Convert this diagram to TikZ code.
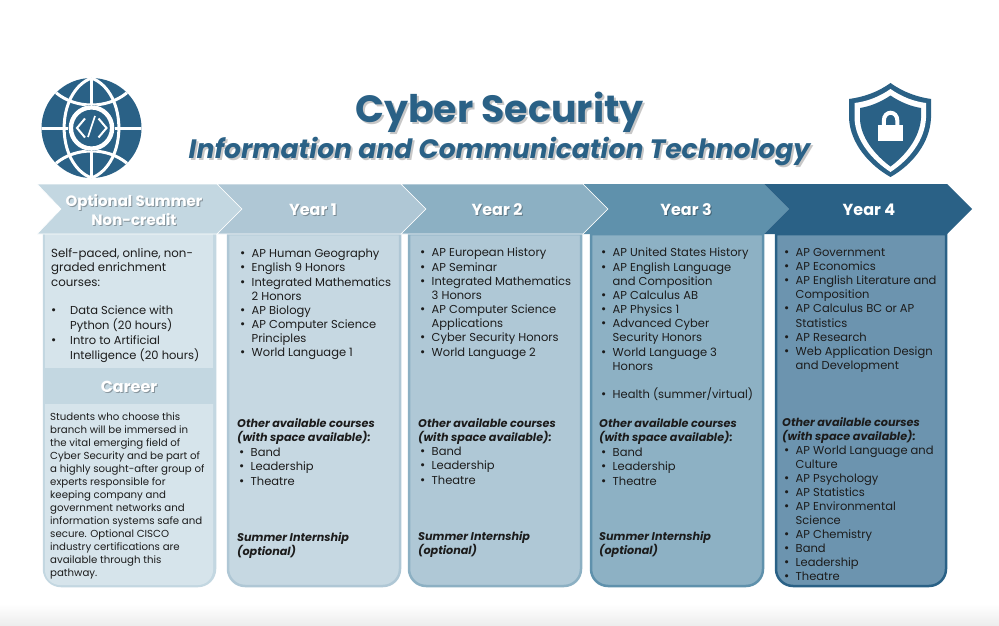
\documentclass[tikz,border=0pt]{standalone}
\usepackage{fontspec}
\setmainfont{Poppins}
\usepackage{xcolor}
\definecolor{deepblue}{HTML}{2A6186}
\definecolor{chevzero}{HTML}{C3D7E1}
\definecolor{chevone}{HTML}{AFC7D5}
\definecolor{chevtwo}{HTML}{8CB0C3}
\definecolor{chevthree}{HTML}{5F91AC}
\definecolor{palezero}{HTML}{D6E4EB}
\definecolor{paleone}{HTML}{C6D8E2}
\definecolor{paletwo}{HTML}{AFC8D6}
\definecolor{palethree}{HTML}{8DB1C4}
\definecolor{palefour}{HTML}{6C94AF}
\definecolor{inktext}{HTML}{1C1C1C}
\newcommand{\bl}[1]{\makebox[11.5pt][l]{\scalebox{1.1}{•}}#1}
\newcommand{\ct}[1]{\hspace*{11.5pt}#1}
\newcommand{\wbl}[1]{\makebox[19pt][l]{\scalebox{1.1}{•}}#1}
\newcommand{\wct}[1]{\hspace*{19pt}#1}
\newcommand{\shtext}[3]{\makebox[0pt][l]{\hspace{#3}\raisebox{-#3}{\textcolor{#1}{#2}}}#2}
\tikzset{
	chevlabel/.style={text=white,font=\fontsize{15}{19}\selectfont\bfseries,align=center,inner sep=0pt},
	yearlabel/.style={chevlabel,font=\fontsize{16}{19}\selectfont\bfseries},
	courselist/.style={anchor=north west,inner sep=0pt,align=left,text=inktext,font=\fontsize{11.5}{14.17}\selectfont},
	courseextra/.style={courselist,font=\fontsize{11.2}{14.17}\selectfont\bfseries\itshape},
	mainhead/.style={text=deepblue,font=\fontsize{38}{40}\selectfont\bfseries,inner sep=0pt},
	subhead/.style={text=deepblue,font=\fontsize{26.6}{28}\selectfont\bfseries\itshape,inner sep=0pt},
	globeline/.style={white,line width=3pt},
}
\begin{document}
\begin{tikzpicture}[x=1pt,y=-1pt]
	\useasboundingbox (0,0) rectangle (999,626);
	\fill[white] (0,0) rectangle (999,626);
	\shade[top color=white,bottom color=black!7] (0,604) rectangle (999,625);

	% panels
	\foreach \lft/\rgt/\bcol/\fcol in {228/400/chevone/paleone,409/581/chevtwo/paletwo,591/763/chevthree/palethree,776/946/deepblue/palefour}
		\draw[\bcol,fill=\fcol,line width=2.5pt] (\lft,234) [rounded corners=17pt] -- (\lft,586) -- (\rgt,586) [sharp corners] -- (\rgt,234) -- cycle;
	\draw[chevzero,fill=chevzero,line width=2.5pt] (44,234) [rounded corners=17pt] -- (44,586) -- (215,586) [sharp corners] -- (215,234) -- cycle;
	\fill[palezero] (45,234) rectangle (213,368);
	\fill[palezero] (45,404) [rounded corners=15pt] -- (45,585) -- (213,585) [sharp corners] -- (213,404) -- cycle;

	% chevrons
	\draw[white,fill=chevzero,line width=0.6pt] (37,184) -- (217,184) -- (242,209) -- (217,234) -- (37,234) -- (61,209) -- cycle;
	\draw[white,fill=chevone,line width=0.6pt] (217,184) -- (401,184) -- (426,209) -- (401,234) -- (217,234) -- (242,209) -- cycle;
	\draw[white,fill=chevtwo,line width=0.6pt] (401,184) -- (583,184) -- (608,209) -- (583,234) -- (401,234) -- (426,209) -- cycle;
	\fill[chevthree] (583,184) -- (764,184) -- (789,209) -- (764,234) -- (583,234) -- (608,209) -- cycle;
	\draw[white,line width=0.6pt] (583,184) -- (608,209) -- (583,234);
	\fill[deepblue] (764,184) -- (947,184) -- (972,209) -- (947,234) -- (764,234) -- (789,209) -- cycle;

	% chevron labels
	\node[chevlabel] (opt) at (134,210.5) {\shtext{chevzero!70!black}{Optional Summer}{1pt}\\\shtext{chevzero!70!black}{Non-credit}{1pt}};
	\node[yearlabel] (yone) at (313,210) {\shtext{chevone!70!black}{Year 1}{1pt}};
	\node[yearlabel] (ytwo) at (497,210) {\shtext{chevtwo!70!black}{Year 2}{1pt}};
	\node[yearlabel] (ythree) at (686,210) {\shtext{chevthree!70!black}{Year 3}{1pt}};
	\node[yearlabel] (yfour) at (869,210) {Year 4};
	\node[yearlabel] (career) at (129,387) {\shtext{chevzero!70!black}{Career}{1pt}};

	% title
	\node[mainhead] (title) at (499.5,113) {\shtext{black!22}{Cyber Security}{2pt}};
	\node[subhead] (sub) at (499.5,153) {\shtext{black!22}{Information and Communication Technology}{2pt}};

	% optional summer text
	\node[courselist,font=\fontsize{11.8}{14.4}\selectfont] (optintro) at (51,248) {Self-paced, online, non-\\graded enrichment\\courses:};
	\node[courselist,font=\fontsize{11.5}{14.8}\selectfont] (optlist) at (51,306) {\wbl{Data Science with}\\\wct{Python (20 hours)}\\\wbl{Intro to Artificial}\\\wct{Intelligence (20 hours)}};
	\node[courselist,font=\fontsize{10.2}{12.93}\selectfont] (careertext) at (50,413) {Students who choose this\\branch will be immersed in\\the vital emerging field of\\Cyber Security and be part of\\a highly sought-after group of\\experts responsible for\\keeping company and\\government networks and\\information systems safe and\\secure. Optional CISCO\\industry certifications are\\available through this\\pathway.};

	% year 1
	\node[courselist] (yonelist) at (240,249) {\bl{AP Human Geography}\\\bl{English 9 Honors}\\\bl{Integrated Mathematics}\\\ct{2 Honors}\\\bl{AP Biology}\\\bl{AP Computer Science}\\\ct{Principles}\\\bl{World Language 1}};
	\node[courseextra] (yoneother) at (237,418.5) {Other available courses\\(with space available):};
	\node[courselist] (yoneband) at (239,448) {\bl{Band}\\\bl{Leadership}\\\bl{Theatre}};
	\node[courseextra] (yoneintern) at (237,532) {Summer Internship\\(optional)};

	% year 2
	\node[courselist] (ytwolist) at (420,248) {\bl{AP European History}\\\bl{AP Seminar}\\\bl{Integrated Mathematics}\\\ct{3 Honors}\\\bl{AP Computer Science}\\\ct{Applications}\\\bl{Cyber Security Honors}\\\bl{World Language 2}};
	\node[courseextra] (ytwoother) at (418,418) {Other available courses\\(with space available):};
	\node[courselist] (ytwoband) at (420,447) {\bl{Band}\\\bl{Leadership}\\\bl{Theatre}};
	\node[courseextra] (ytwointern) at (418,531) {Summer Internship\\(optional)};

	% year 3
	\node[courselist] (ythreelist) at (601,248) {\bl{AP United States History}\\\bl{AP English Language}\\\ct{and Composition}\\\bl{AP Calculus AB}\\\bl{AP Physics 1}\\\bl{Advanced Cyber}\\\ct{Security Honors}\\\bl{World Language 3}\\\ct{Honors}\\[14.5pt]\bl{Health (summer/virtual)}};
	\node[courseextra] (ythreeother) at (599,418) {Other available courses\\(with space available):};
	\node[courselist] (ythreeband) at (601,448) {\bl{Band}\\\bl{Leadership}\\\bl{Theatre}};
	\node[courseextra] (ythreeintern) at (599,531) {Summer Internship\\(optional)};

	% year 4
	\node[courselist] (yfourlist) at (784,248) {\bl{AP Government}\\\bl{AP Economics}\\\bl{AP English Literature and}\\\ct{Composition}\\\bl{AP Calculus BC or AP}\\\ct{Statistics}\\\bl{AP Research}\\\bl{Web Application Design}\\\ct{and Development}};
	\node[courseextra] (yfourother) at (782,417) {Other available courses\\(with space available):};
	\node[courselist,font=\fontsize{11.5}{14}\selectfont] (yfourmore) at (784,446) {\bl{AP World Language and}\\\ct{Culture}\\\bl{AP Psychology}\\\bl{AP Statistics}\\\bl{AP Environmental}\\\ct{Science}\\\bl{AP Chemistry}\\\bl{Band}\\\bl{Leadership}\\\bl{Theatre}};

	% globe
	\fill[deepblue] (91.5,128) circle (50);
	\begin{scope}
		\clip (91.5,128) circle (50);
		\draw[globeline] (41,128) -- (68,128);
		\draw[globeline] (115,128) -- (142,128);
		\draw[globeline] (91.5,70) -- (91.5,105);
		\draw[globeline] (91.5,150) -- (91.5,185);
		\draw[globeline] (91.5,78) .. controls (55,92) and (55,164) .. (91.5,178);
		\draw[globeline] (91.5,78) .. controls (128,92) and (128,164) .. (91.5,178);
		\draw[globeline] (48,84) .. controls (68,112) and (115,112) .. (135,84);
		\draw[globeline] (48,172) .. controls (68,144) and (115,144) .. (135,172);
		\fill[deepblue] (91.5,128) circle (23);
		\draw[white,line width=4.4pt] (91.5,128) circle (20.6);
	\end{scope}
	\draw[white,line width=2pt] (85,118.5) -- (77,128) -- (85,137.5);
	\draw[white,line width=2pt] (98.5,118.5) -- (106.5,128) -- (98.5,137.5);
	\draw[white,line width=1.7pt] (95,116) -- (88,137);

	% shield
	\fill[deepblue] (890.5,83) .. controls (903,92) and (917,97) .. (931,99) -- (931,118) .. controls (930,143) and (912,165) .. (890.5,177) .. controls (869,165) and (850,143) .. (849,118) -- (849,99) .. controls (864,97) and (878,92) .. (890.5,83) -- cycle;
	\fill[white] (890.5,89) .. controls (902,97) and (914,101.5) .. (926,103) -- (926,118) .. controls (925,140) and (909,160) .. (890.5,172) .. controls (872,160) and (855,140) .. (854.5,118) -- (854.5,103) .. controls (867,101.5) and (879,97) .. (890.5,89) -- cycle;
	\fill[deepblue] (890.5,95.5) .. controls (900,102) and (911,106.5) .. (921,108) -- (921,118) .. controls (920,137) and (906,155) .. (890.5,166.5) .. controls (875,155) and (860,137) .. (860,118) -- (860,108) .. controls (870,106.5) and (881,102) .. (890.5,95.5) -- cycle;
	\fill[white] (878,125) rectangle (903,141);
	\draw[white,line width=4pt] (883.8,127) -- (883.8,121) .. controls (883.8,110) and (897.4,110) .. (897.4,121) -- (897.4,127);
\end{tikzpicture}
\end{document}
